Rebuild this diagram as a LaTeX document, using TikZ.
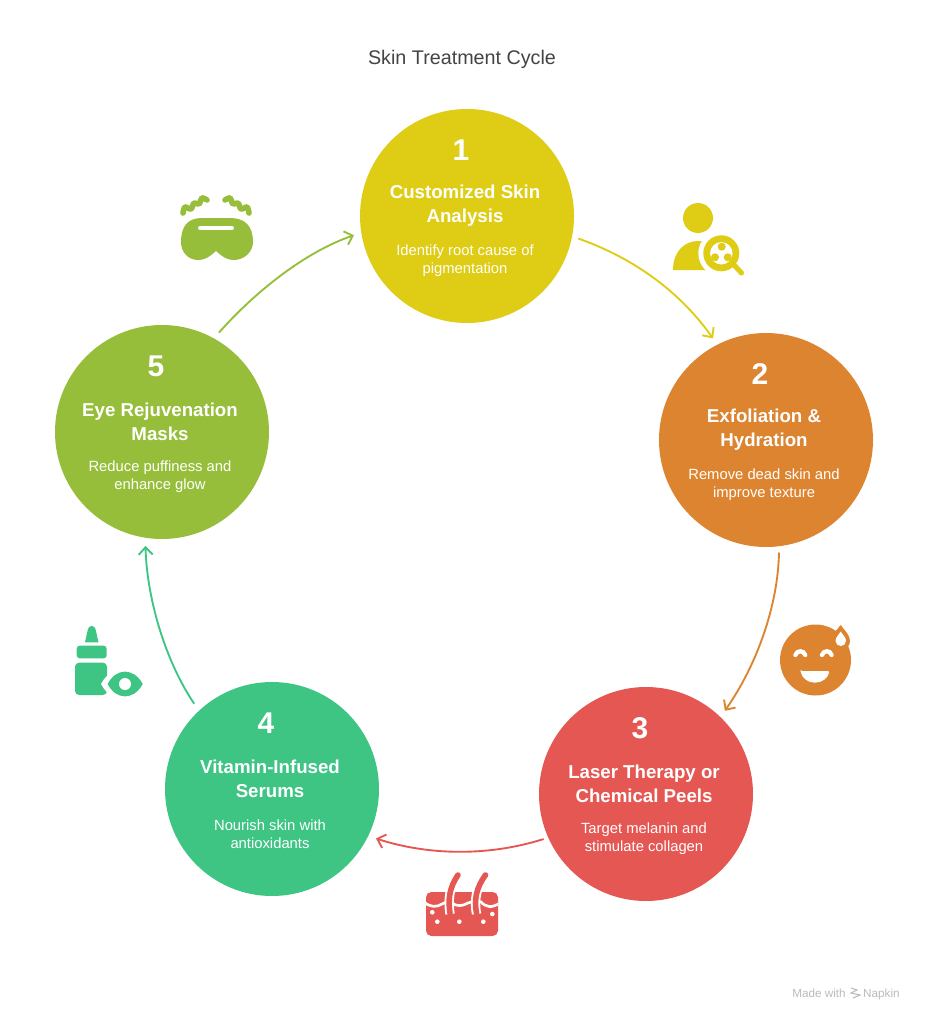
\documentclass[tikz,border=0pt]{standalone}
\usepackage{fontspec}
\setmainfont{Liberation Sans}
\usetikzlibrary{arrows.meta}
\definecolor{cyel}{HTML}{DFCC14}
\definecolor{cora}{HTML}{DD8431}
\definecolor{cred}{HTML}{E55753}
\definecolor{cgrn}{HTML}{3EC583}
\definecolor{clim}{HTML}{96BE3A}
\definecolor{ctitle}{HTML}{444444}
\definecolor{cmade}{HTML}{BBBBBB}
\tikzset{
  x=0.75pt,y=-0.75pt,
  stepdisc/.style={circle,inner sep=0pt,minimum size=160.5pt},
  numtext/.style={text=white,font=\fontsize{22.5}{24}\selectfont\bfseries,inner sep=0pt},
  headtext/.style={text=white,font=\fontsize{14}{18}\selectfont\bfseries,align=center,inner sep=0pt},
  desctext/.style={text=white,font=\fontsize{11.1}{13.5}\selectfont,align=center,inner sep=0pt},
  conn/.style={line width=1.4pt,line cap=round,-{Straight Barb[length=5.5pt,width=10.5pt,line width=1.4pt]}},
}
\newcommand{\stepgroup}[7]{%
  \node[stepdisc,fill=#4] (c#1) at (#2,#3) {};
  \node[numtext] (n#1) at ([xshift=-4.5pt,yshift=49.5pt]c#1.center) {#5};
  \node[headtext] (h#1) at ([xshift=-1.5pt,yshift=7.5pt]c#1.center) {#6};
  \node[desctext] (d#1) at ([xshift=-1.5pt,yshift=-33.75pt]c#1.center) {#7};
}
\begin{document}
\begin{tikzpicture}
\useasboundingbox (0,0) rectangle (924,1020);
\fill[white] (0,0) rectangle (924,1020);
\node[text=ctitle,font=\fontsize{14.8}{18}\selectfont,inner sep=0pt] (title) at (462,59) {Skin Treatment Cycle};

\stepgroup{1}{467}{216}{cyel}{1}{Customized Skin\\Analysis}{Identify root cause of\\pigmentation}
\stepgroup{2}{766}{440}{cora}{2}{Exfoliation \&\\Hydration}{Remove dead skin and\\improve texture}
\stepgroup{3}{646}{794}{cred}{3}{Laser Therapy or\\Chemical Peels}{Target melanin and\\stimulate collagen}
\stepgroup{4}{272}{789}{cgrn}{4}{Vitamin-Infused\\Serums}{Nourish skin with\\antioxidants}
\stepgroup{5}{162}{432}{clim}{5}{Eye Rejuvenation\\Masks}{Reduce puffiness and\\enhance glow}

% connectors
\draw[conn,cyel,shorten <=5.2pt,shorten >=5.6pt] (c1.-11) .. controls (625,255) and (675,285) .. (c2.117);
\draw[conn,cora,shorten <=5pt,shorten >=5.6pt] (c2.-83.4) .. controls (778,605) and (757,665) .. (c3.46.4);
\draw[conn,cred,shorten <=3.8pt,shorten >=6pt] (c3.204.7) .. controls (490,856) and (430,856) .. (c4.-26.3);
\draw[conn,cgrn,shorten <=6.5pt,shorten >=6pt] (c4.133.6) .. controls (166,662) and (147,600) .. (c5.-99);
\draw[conn,clim,shorten <=6pt,shorten >=5.6pt] (c5.61.4) .. controls (255,292) and (305,252) .. (c1.189);

% icon: mask
\fill[clim] (216,251) .. controls (208,258) and (204,260) .. (198,260)
  .. controls (188,260) and (181,252) .. (181,242)
  .. controls (181,226) and (188,218) .. (202,218) -- (230,218)
  .. controls (245,218) and (253,226) .. (253,242)
  .. controls (253,252) and (244,260) .. (234,260)
  .. controls (228,260) and (224,258) .. (216,251) -- cycle;
\draw[white,line width=3pt,line cap=round] (200,228) -- (232,228);
\draw[clim,line width=4.2pt,line cap=round,line join=round]
  plot[smooth,tension=0.5] coordinates {(183,213) (185,207) (191,209) (194,203) (199,204) (202,198) (207,200)};
\draw[clim,line width=4.2pt,line cap=round,line join=round]
  plot[smooth,tension=0.5] coordinates {(249,213) (247,207) (241,209) (238,203) (233,204) (230,198) (225,200)};

% icon: person with magnifier
\fill[cyel] (698,218) circle (15);
\fill[cyel] (673,270) .. controls (673,252) and (684,241) .. (698,241) -- (712,241) -- (712,270) -- cycle;
\fill[white] (721.3,253.3) circle (23);
\fill[cyel] (721.3,253.3) circle (18);
\fill[white] (721.3,253.3) circle (11.2);
\fill[cyel] (721.7,246.7) circle (4) (715,257.3) circle (4) (727.7,257.3) circle (4);
\draw[cyel,line width=3.8pt,line cap=round] (735,266) -- (741.5,273);

% icon: smiley
\fill[cora] (815.5,660) circle (35.5);
\fill[cora] (840.7,625) .. controls (845,631) and (850,635) .. (850,641)
  .. controls (850,646) and (846,650) .. (840.7,650)
  .. controls (835,650) and (831,646) .. (831,641)
  .. controls (831,635) and (836,631) .. (840.7,625) -- cycle;
\fill[white] (840.7,631.5) .. controls (842.5,635) and (846,637) .. (846,641)
  .. controls (846,644) and (843.5,646) .. (840.7,646)
  .. controls (838,646) and (835.5,644) .. (835.5,641)
  .. controls (835.5,637) and (839,635) .. (840.7,631.5) -- cycle;
\draw[white,line width=3.2pt,line cap=round] (795.4,655) .. controls (797,650) and (803.6,650) .. (805.2,655);
\draw[white,line width=3.2pt,line cap=round] (822,655) .. controls (823.6,650) and (830,650) .. (831.6,655);
\fill[white,rounded corners=1pt] (800.5,671) -- (829.5,671) .. controls (828,678) and (822,682.5) .. (815,682.5)
  .. controls (808,682.5) and (802,678) .. (800.5,671) -- cycle;

% icon: skin
\fill[cred,rounded corners=4pt] (426,892) rectangle (498,936);
\begin{scope}
\clip (426,892) rectangle (498,936);
\draw[white,line width=2pt] (424,902) .. controls (431,908) and (437,907) .. (442,904) -- (448,901);
\draw[white,line width=2pt] (452,903) .. controls (458,907) and (462,906) .. (468,903) -- (474,901);
\draw[white,line width=2pt] (480,901) .. controls (486,908) and (492,908) .. (500,903);
\draw[white,line width=7pt] (450,914) .. controls (448,900) and (449,888) .. (458,874);
\draw[white,line width=7pt] (476.5,914) .. controls (474,900) and (476,888) .. (485.5,874);
\end{scope}
\draw[cred,line width=4.2pt,line cap=round] (450,913) .. controls (448,900) and (449,888) .. (458,875);
\draw[cred,line width=4.2pt,line cap=round] (476.5,913) .. controls (474,900) and (476,888) .. (485.5,875);
\fill[white] (432.3,912.3) circle (2.3) (437.3,921.7) circle (2.3) (459.3,921.7) circle (2.3) (483.3,921.7) circle (2.3) (492.3,914) circle (2.3);

% icon: bottle and eye
\fill[cgrn] (85,642.3) -- (87.5,631) .. controls (89,624) and (94.5,624) .. (96,631) -- (98.5,642.3) -- cycle;
\fill[cgrn,rounded corners=2.2pt] (76.7,645.7) rectangle (106.7,658.3);
\fill[cgrn,rounded corners=3pt] (75,662.7) rectangle (107,695);
\fill[white] (101,684) .. controls (112,663) and (138,663) .. (149,684) .. controls (138,705) and (112,705) .. (101,684) -- cycle;
\fill[cgrn] (107.7,684) .. controls (116,667.5) and (134,667.5) .. (142.7,684) .. controls (134,700.5) and (116,700.5) .. (107.7,684) -- cycle;
\fill[white] (125,684) circle (6);

% footer
\node[text=cmade,font=\fontsize{8.8}{10}\selectfont,anchor=base west,inner sep=0pt] (made) at (792,997) {Made with};
\node[text=cmade,font=\fontsize{8.8}{10}\selectfont,anchor=base east,inner sep=0pt] (napkin) at (900,997) {Napkin};
\draw[cmade,line width=0.8pt] (851,988) -- (857,990) -- (851,993) -- (860,995) -- (853,998);
\end{tikzpicture}
\end{document}
